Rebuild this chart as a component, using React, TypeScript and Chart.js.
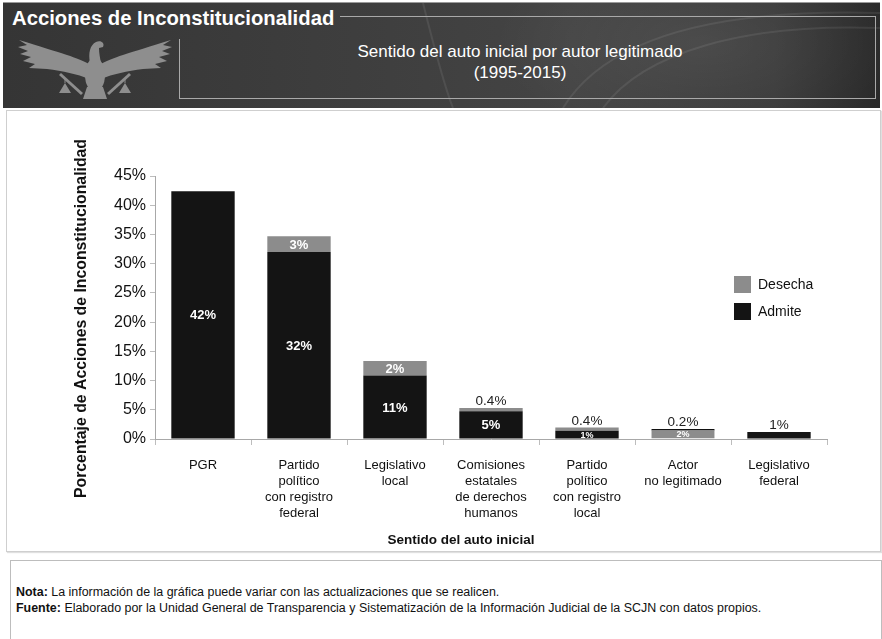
import React, { useEffect, useRef } from "react";
import { Chart, registerables } from "chart.js";

Chart.register(...registerables);

const categories: string[][] = [
  ["PGR"],
  ["Partido", "político", "con registro", "federal"],
  ["Legislativo", "local"],
  ["Comisiones", "estatales", "de derechos", "humanos"],
  ["Partido", "político", "con registro", "local"],
  ["Actor", "no legitimado"],
  ["Legislativo", "federal"],
];
const admite = [42.4, 32.0, 10.85, 4.75, 1.4, 0, 1.2];
const desecha = [0, 2.7, 2.5, 0.55, 0.55, 1.7, 0];
const admiteLabels = ["42%", "32%", "11%", "5%", "1%", "", ""];
const desechaLabels = ["", "3%", "2%", "", "", "2%", ""];
const topLabels = ["", "", "", "0.4%", "0.4%", "0.2%", "1%"];
const seriesNames = ["Admite", "Desecha"];
const yMax = 45;
const yStep = 5;
const yTitle = "Porcentaje de Acciones de Inconstitucionalidad";
const xTitle = "Sentido del auto inicial";
const headerTitle = "Acciones de Inconstitucionalidad";
const subtitle = ["Sentido del auto inicial por autor legitimado", "(1995-2015)"];

const FONT = '"Liberation Sans", Arial, Helvetica, sans-serif';
const COL_ADMITE = "#141414";
const COL_DESECHA = "#8c8c8c";

const CANVAS_TOP = 112;
const CANVAS_H = 440;

const labelPlugin = {
  id: "customLabels",
  afterDatasetsDraw(chart: any) {
    const ctx = chart.ctx;
    const metaA = chart.getDatasetMeta(0);
    const metaD = chart.getDatasetMeta(1);
    ctx.save();
    ctx.textAlign = "center";
    categories.forEach((_, i) => {
      const a = metaA.data[i];
      const d = metaD.data[i];
      const pairs: [any, string][] = [
        [a, admiteLabels[i]],
        [d, desechaLabels[i]],
      ];
      pairs.forEach(([el, t]) => {
        if (!t) return;
        const h = Math.abs(el.base - el.y);
        const fs = h >= 14 ? 13 : 9;
        ctx.font = `bold ${fs}px ${FONT}`;
        ctx.fillStyle = "#ffffff";
        ctx.textBaseline = "middle";
        ctx.fillText(t, el.x, (el.y + el.base) / 2 + 1);
      });
      if (topLabels[i]) {
        const top = Math.min(a.y, d.y);
        ctx.font = `13.5px ${FONT}`;
        ctx.fillStyle = "#222222";
        ctx.textBaseline = "alphabetic";
        ctx.fillText(topLabels[i], a.x, top - 3);
      }
    });
    ctx.restore();
  },
  afterDraw(chart: any) {
    const ctx = chart.ctx;
    const area = chart.chartArea;
    ctx.save();
    ctx.font = `bold 15.8px ${FONT}`;
    ctx.fillStyle = "#111111";
    ctx.textAlign = "center";
    ctx.textBaseline = "middle";
    ctx.translate(82, area.top + (area.bottom - area.top) / 2 + 11);
    ctx.rotate(-Math.PI / 2);
    ctx.fillText(yTitle, 0, 0);
    ctx.restore();

    ctx.save();
    ctx.font = `bold 13.5px ${FONT}`;
    ctx.fillStyle = "#111111";
    ctx.textAlign = "center";
    ctx.textBaseline = "middle";
    ctx.fillText(xTitle, (area.left + area.right) / 2 - 30, area.bottom + 101);
    ctx.restore();

    ctx.save();
    const lx = area.right - 93;
    let ly = area.top + 100;
    const items = [1, 0];
    items.forEach((di) => {
      const ds = chart.data.datasets[di];
      ctx.fillStyle = ds.backgroundColor;
      ctx.fillRect(lx, ly, 17, 17);
      ctx.font = `14px ${FONT}`;
      ctx.fillStyle = "#111111";
      ctx.textAlign = "left";
      ctx.textBaseline = "middle";
      ctx.fillText(ds.label, lx + 24, ly + 9);
      ly += 27;
    });
    ctx.restore();
  },
};

function ChartBox() {
  const ref = useRef<HTMLCanvasElement | null>(null);
  useEffect(() => {
    if (!ref.current) return;
    const chart = new Chart(ref.current, {
      type: "bar",
      data: {
        labels: categories,
        datasets: [
          {
            label: seriesNames[0],
            data: admite,
            backgroundColor: COL_ADMITE,
            barPercentage: 0.66,
            categoryPercentage: 1,
          },
          {
            label: seriesNames[1],
            data: desecha,
            backgroundColor: COL_DESECHA,
            borderColor: "#111111",
            borderWidth: (c: any) =>
              admite[c.dataIndex] === 0 && desecha[c.dataIndex] > 0
                ? { top: 1.5, left: 0, right: 0, bottom: 0 }
                : 0,
            borderSkipped: false,
            barPercentage: 0.66,
            categoryPercentage: 1,
          },
        ],
      },
      options: {
        responsive: false,
        animation: false,
        layout: { padding: { top: 64, right: 55, left: 0, bottom: 0 } },
        plugins: {
          legend: { display: false },
          tooltip: { enabled: false },
          title: { display: false },
        },
        scales: {
          x: {
            stacked: true,
            grid: {
              display: true,
              offset: true,
              drawOnChartArea: false,
              tickLength: 6,
              color: "#bdbdbd",
            },
            border: { display: true, color: "#a8a8a8", width: 1 },
            ticks: {
              color: "#111111",
              font: { family: FONT, size: 13, lineHeight: 1.23 },
              padding: 12,
              maxRotation: 0,
              autoSkip: false,
            },
            afterFit: (scale: any) => {
              scale.height = CANVAS_H - 327;
            },
          },
          y: {
            stacked: true,
            min: 0,
            max: yMax,
            grid: {
              display: true,
              drawOnChartArea: false,
              tickLength: 5,
              color: "#bdbdbd",
            },
            border: { display: true, color: "#a8a8a8", width: 1 },
            ticks: {
              stepSize: yStep,
              color: "#111111",
              font: { family: FONT, size: 16 },
              padding: 4,
              callback: (v: any) => `${v}%`,
            },
            afterFit: (scale: any) => {
              scale.width = 155;
            },
          },
        },
      },
      plugins: [labelPlugin],
    } as any);
    return () => chart.destroy();
  }, []);
  return (
    <canvas
      ref={ref}
      width={882}
      height={CANVAS_H}
      style={{ position: "absolute", left: 0, top: CANVAS_TOP, width: 882, height: CANVAS_H }}
    />
  );
}

function Eagle() {
  const wing =
    "M88 62 C76 55 58 50 16 37 L24 42 L15 44 L25 48 L17 51 L28 54 L20 58 L32 61 L26 65 L44 66 C60 68 74 71 86 76 Z";
  return (
    <svg width={190} height={110} style={{ position: "absolute", left: 0, top: 0 }}>
      <g fill="#8e8e8e" stroke="none">
        <path d={wing} />
        <path d={wing} transform="translate(184,0) scale(-1,1)" />
        <ellipse cx={92} cy={72} rx={10} ry={17} />
        <path d="M87 60 C85 50 87 42 93 39 C98 37 102 40 100 44 L96 45 C96 50 97 55 98 60 Z" />
        <path d="M84 84 L100 84 L104 96 L80 96 Z" />
        <path d="M58 70 L80 90 L78 92 L56 72 Z" />
        <path d="M126 70 L104 90 L106 92 L128 72 Z" />
        <path d="M62 80 L56 90 L68 90 Z" />
        <path d="M122 80 L116 90 L128 90 Z" />
      </g>
      <g stroke="#8e8e8e" strokeWidth={1} fill="none">
        <line x1={62} y1={76} x2={62} y2={80} />
        <line x1={122} y1={76} x2={122} y2={80} />
      </g>
    </svg>
  );
}

export default function App() {
  useEffect(() => {
    document.body.style.margin = "0";
  }, []);
  return (
    <div
      style={{
        position: "absolute",
        left: 0,
        top: 0,
        width: 882,
        height: 639,
        overflow: "hidden",
        background: "#ffffff",
        fontFamily: FONT,
      }}
    >
      <div
        style={{
          position: "absolute",
          left: 3,
          top: 2,
          width: 877,
          height: 105,
          background:
            "radial-gradient(ellipse 300px 140px at 700px 40px, rgba(255,255,255,0.07), rgba(255,255,255,0) 70%), linear-gradient(90deg, #353535 0%, #3e3e3e 40%, #444444 65%, #3a3a3a 88%, #2a2a2a 100%)",
          borderTop: "1px solid #9a9a9a",
          overflow: "hidden",
        }}
      >
        <svg width={877} height={105} style={{ position: "absolute", left: 0, top: 0 }}>
          <g fill="none" stroke="rgba(255,255,255,0.08)" strokeWidth={2}>
            <path d="M560 105 C600 40 700 5 877 10" />
            <path d="M600 105 C640 50 740 20 877 25" />
            <path d="M420 0 C430 40 440 80 450 105" />
          </g>
        </svg>
        <Eagle />
        <div
          style={{
            position: "absolute",
            left: 9,
            top: 3,
            color: "#ffffff",
            fontWeight: "bold",
            fontSize: 20.3,
            lineHeight: "24px",
            whiteSpace: "nowrap",
          }}
        >
          {headerTitle}
        </div>
        <div style={{ position: "absolute", left: 337, top: 13, width: 535, height: 1, background: "#a9a9a9" }} />
        <div style={{ position: "absolute", left: 872, top: 13, width: 1, height: 83, background: "#a9a9a9" }} />
        <div style={{ position: "absolute", left: 176, top: 95, width: 697, height: 1, background: "#a9a9a9" }} />
        <div style={{ position: "absolute", left: 176, top: 36, width: 1, height: 60, background: "#a9a9a9" }} />
        <div
          style={{
            position: "absolute",
            left: 267,
            top: 38,
            width: 500,
            textAlign: "center",
            color: "#ffffff",
            fontSize: 17,
            lineHeight: "21px",
            whiteSpace: "nowrap",
          }}
        >
          <div>{subtitle[0]}</div>
          <div>{subtitle[1]}</div>
        </div>
      </div>

      <div
        style={{
          position: "absolute",
          left: 6,
          top: 110,
          width: 873,
          height: 440,
          border: "1px solid #cfcfcf",
          boxShadow: "1px 1px 1px #e0e0e0",
          background: "#ffffff",
        }}
      />
      <ChartBox />

      <div
        style={{
          position: "absolute",
          left: 10,
          top: 560,
          width: 870,
          height: 90,
          border: "1px solid #bdbdbd",
          background: "#ffffff",
        }}
      >
        <div
          style={{
            position: "absolute",
            left: 5,
            top: 23,
            fontSize: 12.45,
            lineHeight: "16px",
            color: "#111111",
            whiteSpace: "nowrap",
          }}
        >
          <div>
            <b>Nota:</b> La información de la gráfica puede variar con las actualizaciones que se realicen.
          </div>
          <div>
            <b>Fuente:</b> Elaborado por la Unidad General de Transparencia y Sistematización de la Información
            Judicial de la SCJN con datos propios.
          </div>
        </div>
      </div>
    </div>
  );
}
